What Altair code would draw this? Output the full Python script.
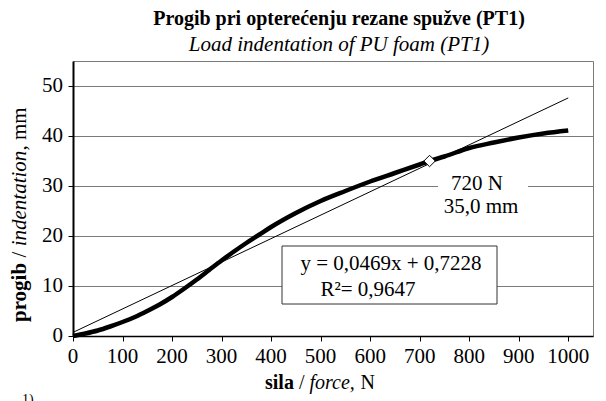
import altair as alt
import pandas as pd

# ---- data ----
force = [0, 25, 50, 75, 100, 125, 150, 175, 200, 225, 250, 275, 300, 325, 350, 375,
         400, 450, 500, 550, 600, 650, 700, 720, 750, 800, 850, 900, 950, 1000]
indentation = [0, 0.5, 1.1, 1.9, 2.8, 3.8, 5.0, 6.3, 7.8, 9.5, 11.3, 13.2, 15.1, 16.9, 18.6, 20.2,
               21.8, 24.6, 27.0, 29.0, 30.9, 32.6, 34.3, 35.0, 35.9, 37.6, 38.7, 39.7, 40.5, 41.1]
trend_force = [0, 1000]
trend_indent = [0.7228, 47.6128]
marker_force = [720]
marker_indent = [35.0]
x_ticks = [0, 100, 200, 300, 400, 500, 600, 700, 800, 900, 1000]
y_ticks = [0, 10, 20, 30, 40, 50]

FONT = "Liberation Serif"
W, H = 520, 275

xs = alt.Scale(domain=[0, 1050], nice=False, zero=False)
ys = alt.Scale(domain=[0, 55], nice=False, zero=False)

x_axis = alt.Axis(values=x_ticks, labels=False, title=None, grid=False, domainColor="black",
                  domainWidth=1.5, tickColor="black", tickSize=5, tickWidth=1)
y_axis = alt.Axis(values=y_ticks, labels=False, title=None, grid=True, gridColor="#7a7a7a",
                  gridWidth=1, domainColor="black", domainWidth=2, tickColor="black", tickSize=5,
                  tickWidth=1)

df = pd.DataFrame({"force": force, "indentation": indentation})
dtrend = pd.DataFrame({"force": trend_force, "indentation": trend_indent})
dmark = pd.DataFrame({"force": marker_force, "indentation": marker_indent})
dxt = pd.DataFrame({"force": x_ticks, "lab": [str(v) for v in x_ticks]})
dyt = pd.DataFrame({"indentation": y_ticks, "lab": [str(v) for v in y_ticks]})
one = pd.DataFrame({"k": [0]})

X = alt.X("force:Q", scale=xs, axis=x_axis)
Y = alt.Y("indentation:Q", scale=ys, axis=y_axis)

curve = alt.Chart(df).mark_line(color="black", strokeWidth=4.5, interpolate="monotone").encode(
    x=X, y=Y)
trend = alt.Chart(dtrend).mark_line(color="black", strokeWidth=1).encode(x=X, y=Y)

label_bg = alt.Chart(one).mark_rect(fill="white").encode(
    x=alt.value(365), x2=alt.value(455), y=alt.value(111), y2=alt.value(158))
eq_box = alt.Chart(one).mark_rect(fill="white", stroke="#333333", strokeWidth=1).encode(
    x=alt.value(209), x2=alt.value(424), y=alt.value(185), y2=alt.value(243))

marker = alt.Chart(dmark).mark_point(shape="diamond", size=130, filled=True, fill="white",
                                     stroke="black", strokeWidth=1, opacity=1).encode(x=X, y=Y)

xlabels = alt.Chart(dxt).mark_text(font=FONT, fontSize=21, color="black", baseline="middle",
                                   align="center").encode(x=X, y=alt.value(296), text="lab:N")
ylabels = alt.Chart(dyt).mark_text(font=FONT, fontSize=21, color="black", baseline="middle",
                                   align="right").encode(x=alt.value(-10), y=Y, text="lab:N")


def txt(text, x, y, size=20, weight="normal", style="normal", align="center",
        baseline="middle", angle=0):
    return alt.Chart(one).mark_text(text=text, font=FONT, fontSize=size, fontWeight=weight,
                                    fontStyle=style, align=align, baseline=baseline,
                                    angle=angle, color="black").encode(
        x=alt.value(x), y=alt.value(y))


texts = [
    txt("Progib pri opterećenju rezane spužve (PT1)", 266, -42, size=20, weight="bold"),
    txt("Load indentation of PU foam (PT1)", 266, -16, size=21, style="italic"),
    # y title
    txt("progib", -53, 261, size=21, weight="bold", align="left", angle=270),
    txt("/", -53, 196.4, size=21, align="left", angle=270),
    txt("indentation", -53, 185.3, size=21, style="italic", align="left", angle=270),
    txt(", mm", -53, 89.6, size=21, align="left", angle=270),
    # x title
    txt("sila", 192, 322, weight="bold", align="left"),
    txt("/", 225.9, 322, align="left"),
    txt("force,", 236.5, 322, style="italic", align="left"),
    txt("N", 287.6, 322, align="left"),
    # equation
    txt("y = 0,0469x + 0,7228", 318, 203, size=21),
    txt("R²= 0,9647", 295, 229, size=21),
    # point label
    txt("720 N", 404, 123, size=21),
    txt("35,0 mm", 408, 146, size=21),
    txt("1)", -51, 332, size=14, align="left", baseline="top"),
]

chart = alt.layer(curve, trend, label_bg, eq_box, marker, xlabels, ylabels, *texts).properties(
    width=W, height=H, autosize="none",
    padding={"left": 65, "top": 53, "right": 5, "bottom": 80},
).configure(background="white", font=FONT).configure_view(
    stroke="#7a7a7a", strokeWidth=1
)

chart.save("out.html", embed_options={"renderer": "svg", "actions": False})
